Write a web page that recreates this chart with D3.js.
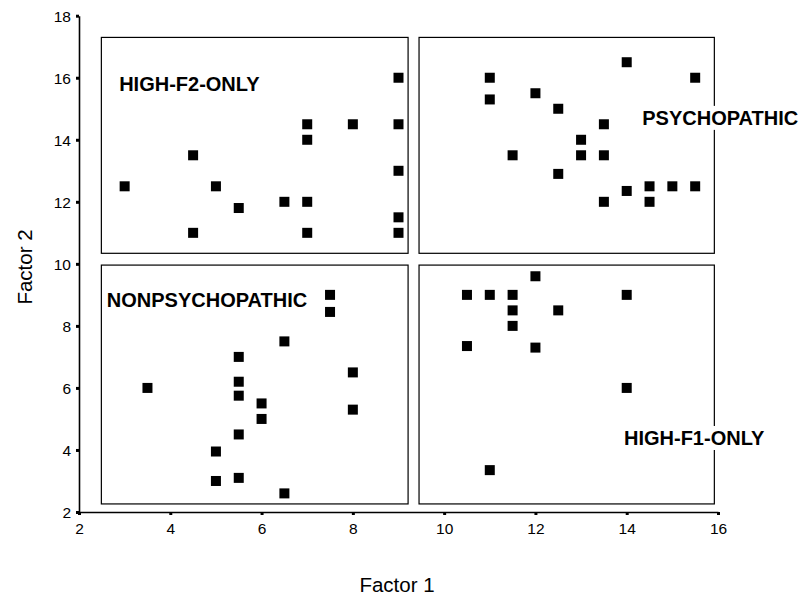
<!DOCTYPE html>
<html>
<head>
<meta charset="utf-8">
<script src="https://cdn.jsdelivr.net/npm/d3@7"></script>
<style>
  body { margin: 0; background: #fff; }
  svg { display: block; }
  text { font-family: "Liberation Sans", Arial, sans-serif; fill: #000; }
</style>
</head>
<body>
<svg id="chart" width="807" height="596"></svg>
<script>
// ---- Data ----
const xTicks = [2, 4, 6, 8, 10, 12, 14, 16];
const yTicks = [2, 4, 6, 8, 10, 12, 14, 16, 18];

const highF2Only = [
  [3, 12.5], [4.5, 13.5], [4.5, 11.0], [5, 12.5], [5.5, 11.8], [6.5, 12.0],
  [7, 14.5], [7, 14.0], [7, 12.0], [7, 11.0], [8, 14.5],
  [9, 16.0], [9, 14.5], [9, 13.0], [9, 11.5], [9, 11.0]
];
const psychopathic = [
  [11, 16.0], [11, 15.3], [12, 15.5], [12.5, 15.0], [13.5, 14.5], [13, 14.0],
  [11.5, 13.5], [13, 13.5], [13.5, 13.5], [12.5, 12.9], [14, 16.5], [15.5, 16.0],
  [14, 12.35], [14.5, 12.5], [15, 12.5], [15.5, 12.5], [13.5, 12.0], [14.5, 12.0]
];
const nonPsychopathic = [
  [3.5, 6.0], [5.5, 7.0], [5.5, 6.2], [5.5, 5.75], [5.5, 4.5], [5.5, 3.1],
  [5, 3.95], [5, 3.0], [6, 5.5], [6, 5.0], [6.5, 7.5], [6.5, 2.6],
  [7.5, 9.0], [7.5, 8.45], [8, 6.5], [8, 5.3]
];
const highF1Only = [
  [10.5, 9.0], [11, 9.0], [11.5, 9.0], [11.5, 8.5], [11.5, 8.0], [10.5, 7.35],
  [12, 9.6], [12, 7.3], [12.5, 8.5], [14, 9.0], [14, 6.0], [11, 3.35]
];

// group boxes: [x0, x1, y0, y1] in data units
const groupNames = ["HIGH-F2-ONLY", "PSYCHOPATHIC", "NONPSYCHOPATHIC", "HIGH-F1-ONLY"];
const groupBoxes = [
  [2.49, 9.21, 10.34, 17.30],
  [9.45, 15.92, 10.34, 17.30],
  [2.49, 9.21, 2.26, 9.96],
  [9.45, 15.92, 2.26, 9.96]
];
// label anchor (start x, baseline y) in data units
const groupLabelPos = [
  [2.88, 15.57],
  [14.34, 14.48],
  [2.61, 8.61],
  [13.94, 4.16]
];

// ---- Chart ----
const svg = d3.select("#chart");
const x = d3.scaleLinear().domain([2, 16]).range([79, 718]);
const y = d3.scaleLinear().domain([2, 18]).range([512, 15.7]);

// boxes
svg.append("g").selectAll("rect").data(groupBoxes).join("rect")
  .attr("x", d => x(d[0]))
  .attr("y", d => y(d[3]))
  .attr("width", d => x(d[1]) - x(d[0]))
  .attr("height", d => y(d[2]) - y(d[3]))
  .attr("fill", "none")
  .attr("stroke", "#000")
  .attr("stroke-width", 1.2);

// axes
const xAxis = d3.axisBottom(x).tickValues(xTicks).tickSize(3).tickSizeOuter(0).tickPadding(5);
const yAxis = d3.axisLeft(y).tickValues(yTicks).tickSize(3).tickSizeOuter(0).tickPadding(5);

const gx = svg.append("g").attr("transform", "translate(0,512)").call(xAxis);
const gy = svg.append("g").attr("transform", "translate(79,0)").call(yAxis);
[gx, gy].forEach(g => {
  g.select(".domain").attr("stroke", "#000").attr("stroke-width", 1.6);
  g.selectAll(".tick line").attr("stroke", "#000").attr("stroke-width", 3);
  g.selectAll(".tick text").style("font-family", "'Liberation Sans', Arial, sans-serif")
    .style("font-size", "15.5px").attr("fill", "#000");
});
gx.selectAll(".tick text").attr("dy", "0.9em");
gy.selectAll(".tick text").attr("dy", "0.36em");

// points
const allGroups = [highF2Only, psychopathic, nonPsychopathic, highF1Only];
const s = 10;
svg.append("g").selectAll("g").data(allGroups).join("g")
  .selectAll("rect").data(d => d).join("rect")
  .attr("x", d => x(d[0]) - s / 2)
  .attr("y", d => y(d[1]) - s / 2)
  .attr("width", s)
  .attr("height", s)
  .attr("fill", "#000");

// group labels with white backgrounds
const lg = svg.append("g");
groupNames.forEach((name, i) => {
  const g = lg.append("g");
  const t = g.append("text")
    .attr("x", x(groupLabelPos[i][0]))
    .attr("y", y(groupLabelPos[i][1]))
    .style("font-size", "20px")
    .style("font-weight", "bold")
    .text(name);
  const bb = t.node().getBBox();
  g.insert("rect", "text")
    .attr("x", bb.x - 3).attr("y", bb.y - 1)
    .attr("width", bb.width + 6).attr("height", bb.height + 2)
    .attr("fill", "#fff");
});

// axis titles
svg.append("text")
  .attr("x", 397).attr("y", 592)
  .attr("text-anchor", "middle")
  .style("font-size", "20.5px")
  .text("Factor 1");
svg.append("text")
  .attr("transform", "translate(32,267) rotate(-90)")
  .attr("text-anchor", "middle")
  .style("font-size", "20.5px")
  .text("Factor 2");
</script>
</body>
</html>
